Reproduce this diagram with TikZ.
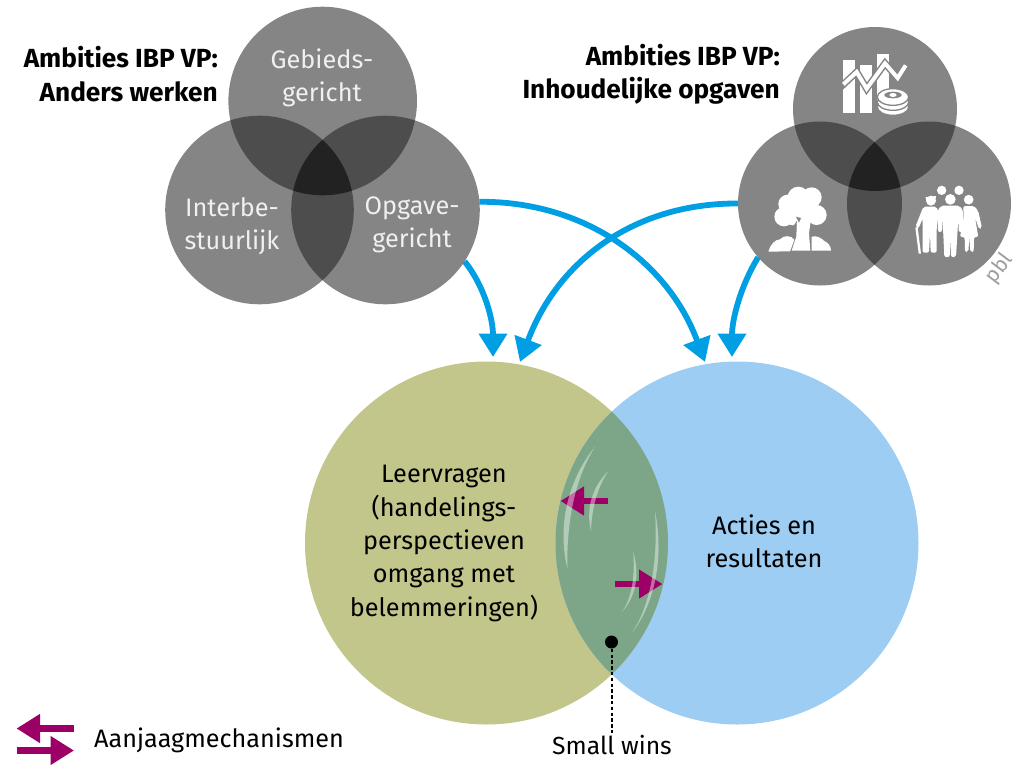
\documentclass[tikz,border=0pt]{standalone}
\usepackage{fontspec}
\setmainfont{Fira Sans}
\usetikzlibrary{arrows.meta}
\definecolor{vgray}{HTML}{858585}
\definecolor{vgrayb}{HTML}{4D4D4D}
\definecolor{vgrayc}{HTML}{222222}
\definecolor{olive}{HTML}{C3C68A}
\definecolor{lblue}{HTML}{9DCDF3}
\definecolor{lens}{HTML}{7DA688}
\definecolor{arrowblue}{HTML}{009FE3}
\definecolor{magentaarrow}{HTML}{9C0067}
\tikzset{
  vcircle/.style={circle,inner sep=0pt,outer sep=0pt,fill=vgray},
  bigcircle/.style={circle,inner sep=0pt,outer sep=0pt,minimum size=363pt},
  flow/.style={draw=arrowblue,line width=5.8pt,-{Triangle[length=23.5pt,width=27.5pt]}},
  aanjaag/.style={draw=magentaarrow,line width=6.4pt,-{Triangle[length=23.5pt,width=27.5pt]}},
  vtext/.style={text=white!94!black,align=center,font=\fontsize{25.3}{33.4}\selectfont},
  btext/.style={text=black,align=center,font=\fontsize{25.3}{33.4}\selectfont},
  htext/.style={text=black,align=right,anchor=east,font=\fontsize{26.2}{33.4}\selectfont\bfseries},
  shine/.style={fill=white,fill opacity=0.42},
}
\begin{document}
\begin{tikzpicture}[x=1pt,y=-1pt]
\useasboundingbox (0,0) rectangle (1013,764);
% left venn
\node[vcircle,minimum size=188.6pt] (gt) at (322.7,101) {};
\node[vcircle,minimum size=188.6pt] (gl) at (259.5,210) {};
\node[vcircle,minimum size=188.6pt] (gr) at (385.5,210) {};
\begin{scope}\clip (322.7,101) circle (94.3);\fill[vgrayb] (259.5,210) circle (94.3);\fill[vgrayb] (385.5,210) circle (94.3);\end{scope}
\begin{scope}\clip (259.5,210) circle (94.3);\fill[vgrayb] (385.5,210) circle (94.3);\end{scope}
\begin{scope}\clip (322.7,101) circle (94.3);\clip (259.5,210) circle (94.3);\fill[vgrayc] (385.5,210) circle (94.3);\end{scope}
% right venn
\node[vcircle,minimum size=164pt] (rt) at (875,109) {};
\node[vcircle,minimum size=164pt] (rl) at (820,203.5) {};
\node[vcircle,minimum size=164pt] (rr) at (929,203.5) {};
\begin{scope}\clip (875,109) circle (82);\fill[vgrayb] (820,203.5) circle (82);\fill[vgrayb] (929,203.5) circle (82);\end{scope}
\begin{scope}\clip (820,203.5) circle (82);\fill[vgrayb] (929,203.5) circle (82);\end{scope}
\begin{scope}\clip (875,109) circle (82);\clip (820,203.5) circle (82);\fill[vgrayc] (929,203.5) circle (82);\end{scope}
% big circles
\node[bigcircle,fill=olive] (leer) at (486.5,543) {};
\node[bigcircle,fill=lblue] (acties) at (737,543) {};
\begin{scope}\clip (486.5,543) circle (181.5);\fill[lens] (737,543) circle (181.5);\end{scope}
% flow arrows
\coordinate (tipa) at (493,357);
\coordinate (tipb) at (520,362);
\coordinate (tipc) at (705,362);
\coordinate (tipd) at (732,357);
\draw[flow] (gr.-33) .. controls (485,287) and (493,320) .. (tipa);
\draw[flow] (gr.5) .. controls (585,201) and (668,262) .. (tipc);
\draw[flow] (rl.west) .. controls (633,203) and (557,262) .. (tipb);
\draw[flow] (rl.221) .. controls (740,287) and (732,320) .. (tipd);
% magenta arrows in lens
\coordinate (aa) at (608,501);
\coordinate (ab) at (560.5,501);
\coordinate (ac) at (615,584);
\coordinate (ad) at (662.5,584);
\draw[aanjaag] (aa) -- (ab);
\draw[aanjaag] (ac) -- (ad);
% shines
\begin{scope}[shift={(540,400)},scale=1/3]
\fill[shine] (165,140) .. controls (76,250) and (54,390) .. (82,505) .. controls (80,390) and (96,250) .. (165,140) -- cycle;
\fill[shine] (205,213) .. controls (153,265) and (138,330) .. (153,393) .. controls (155,330) and (170,265) .. (205,213) -- cycle;
\fill[shine] (345,333) .. controls (370,460) and (352,600) .. (275,700) .. controls (336,610) and (354,470) .. (345,333) -- cycle;
\fill[shine] (280,455) .. controls (300,530) and (287,590) .. (245,637) .. controls (276,595) and (285,530) .. (280,455) -- cycle;
\end{scope}
% small wins
\node[circle,fill=black,inner sep=0pt,minimum size=13pt] (dot) at (611.5,642) {};
\coordinate (dotend) at (611.5,733);
\draw[black,line width=2pt,dash pattern=on 3.4pt off 2.4pt] (dot) -- (dotend);
\node[btext,font=\fontsize{24.7}{30}\selectfont] (sw) at (612,745.5) {Small wins};
% legend
\coordinate (la) at (74,728.5);
\coordinate (lb) at (16.5,728.5);
\coordinate (lc) at (16.5,750.5);
\coordinate (ld) at (74,750.5);
\draw[aanjaag] (la) -- (lb);
\draw[aanjaag] (lc) -- (ld);
\node[btext,anchor=west,inner sep=0pt,font=\fontsize{25.2}{30}\selectfont] (lt) at (94,740) {Aanjaagmechanismen};
% texts
\node[htext,inner sep=0pt] (ha) at (218,74) {Ambities IBP VP:\\Anders werken};
\node[htext,inner sep=0pt] (hb) at (780,74) {Ambities IBP VP:\\Inhoudelijke opgaven};
\node[vtext] (ta) at (322,78) {Gebieds-\\gericht};
\node[vtext] (tb) at (232,226) {Interbe-\\stuurlijk};
\node[vtext] (tc) at (412,225) {Opgave-\\gericht};
\node[btext] (td) at (444,543.5) {Leervragen\\(handelings-\\perspectieven\\omgang met\\belemmeringen)};
\node[btext] (te) at (764,541) {Acties en\\resultaten};
\node[rotate=53,anchor=west,inner sep=0pt,text=black!38,font=\fontsize{21}{24}\selectfont] (pbl) at (990,281) {pbl};
% chart icon
\begin{scope}[shift={(835,50)},scale=1/3]
\fill[white] (25,30) rectangle (60,190);
\fill[white] (75,46) rectangle (110,190);
\fill[white] (125,12) rectangle (162,150);
\draw[vgray,line width=7pt,line join=miter] (16,112) -- (65,66) -- (95,116) -- (150,40) -- (188,84) -- (216,40);
\draw[white,line width=4pt,line join=miter] (25,103) -- (65,66) -- (95,116) -- (150,40) -- (188,84) -- (212,46);
\fill[white,draw=vgray,line width=1.3pt] (174,171) ellipse (47 and 25);
\fill[white,draw=vgray,line width=1.3pt] (174,156) ellipse (47 and 25);
\fill[white,draw=vgray,line width=1.3pt] (174,141) ellipse (47 and 25);
\fill[vgray] (174,135) ellipse (26 and 10);
\fill[white] (174,135) ellipse (11 and 6);
\end{scope}
% tree icon
\begin{scope}[shift={(765,180)},scale=1/3]
\fill[white] (100,52) circle (32);
\fill[white] (140,52) circle (30);
\fill[white] (68,72) circle (28);
\fill[white] (57,110) circle (29);
\fill[white] (155,105) circle (30);
\fill[white] (100,90) circle (34);
\fill[white] (130,85) circle (32);
\fill[white] (84,112) circle (24);
\fill[white] (96,112) -- (138,115) -- (132,160) -- (136,212) -- (80,212) -- (94,170) -- cycle;
\fill[vgray] (93,110) -- (108,114) -- (102,128) -- cycle;
\fill[vgray] (84,140) -- (96,122) -- (92,155) -- cycle;
\fill[white] (10,215) .. controls (15,195) and (30,178) .. (45,178) .. controls (55,165) and (80,165) .. (88,180) -- (75,214) -- cycle;
\fill[white] (140,212) -- (140,170) .. controls (155,165) and (170,175) .. (178,183) .. controls (190,188) and (198,200) .. (198,212) -- cycle;
\end{scope}
% people icon
\begin{scope}[shift={(910,178)},scale=1/3]
\fill[white] (95,37) circle (14);
\fill[white] (147,37) circle (14);
\fill[white] (121,64) circle (16);
\fill[white] (176,65) circle (14.5);
\fill[white] (63,68) circle (15);
\fill[white] (46,58) -- (78,54) -- (76,66) -- (50,68) -- cycle;
\fill[white,rounded corners=2pt] (40,86) -- (80,86) -- (86,105) -- (80,150) -- (80,224) -- (62,224) -- (60,165) -- (57,224) -- (38,224) -- (38,122) -- (25,152) -- (16,147) -- cycle;
\fill[white] (16,148) -- (23,148) -- (33,227) -- (26,227) -- cycle;
\fill[white,rounded corners=2pt] (93,83) -- (149,83) -- (160,100) -- (158,162) -- (146,162) -- (145,120) -- (142,170) -- (138,237) -- (123,237) -- (121,180) -- (119,237) -- (103,237) -- (100,170) -- (97,120) -- (96,162) -- (84,162) -- (82,100) -- cycle;
\fill[white,rounded corners=2pt] (160,84) -- (193,84) -- (205,100) -- (216,150) -- (207,153) -- (195,118) -- (205,177) -- (192,177) -- (191,222) -- (181,222) -- (178,177) -- (175,222) -- (165,222) -- (164,177) -- (150,177) -- (161,118) -- cycle;
\end{scope}
\end{tikzpicture}
\end{document}
